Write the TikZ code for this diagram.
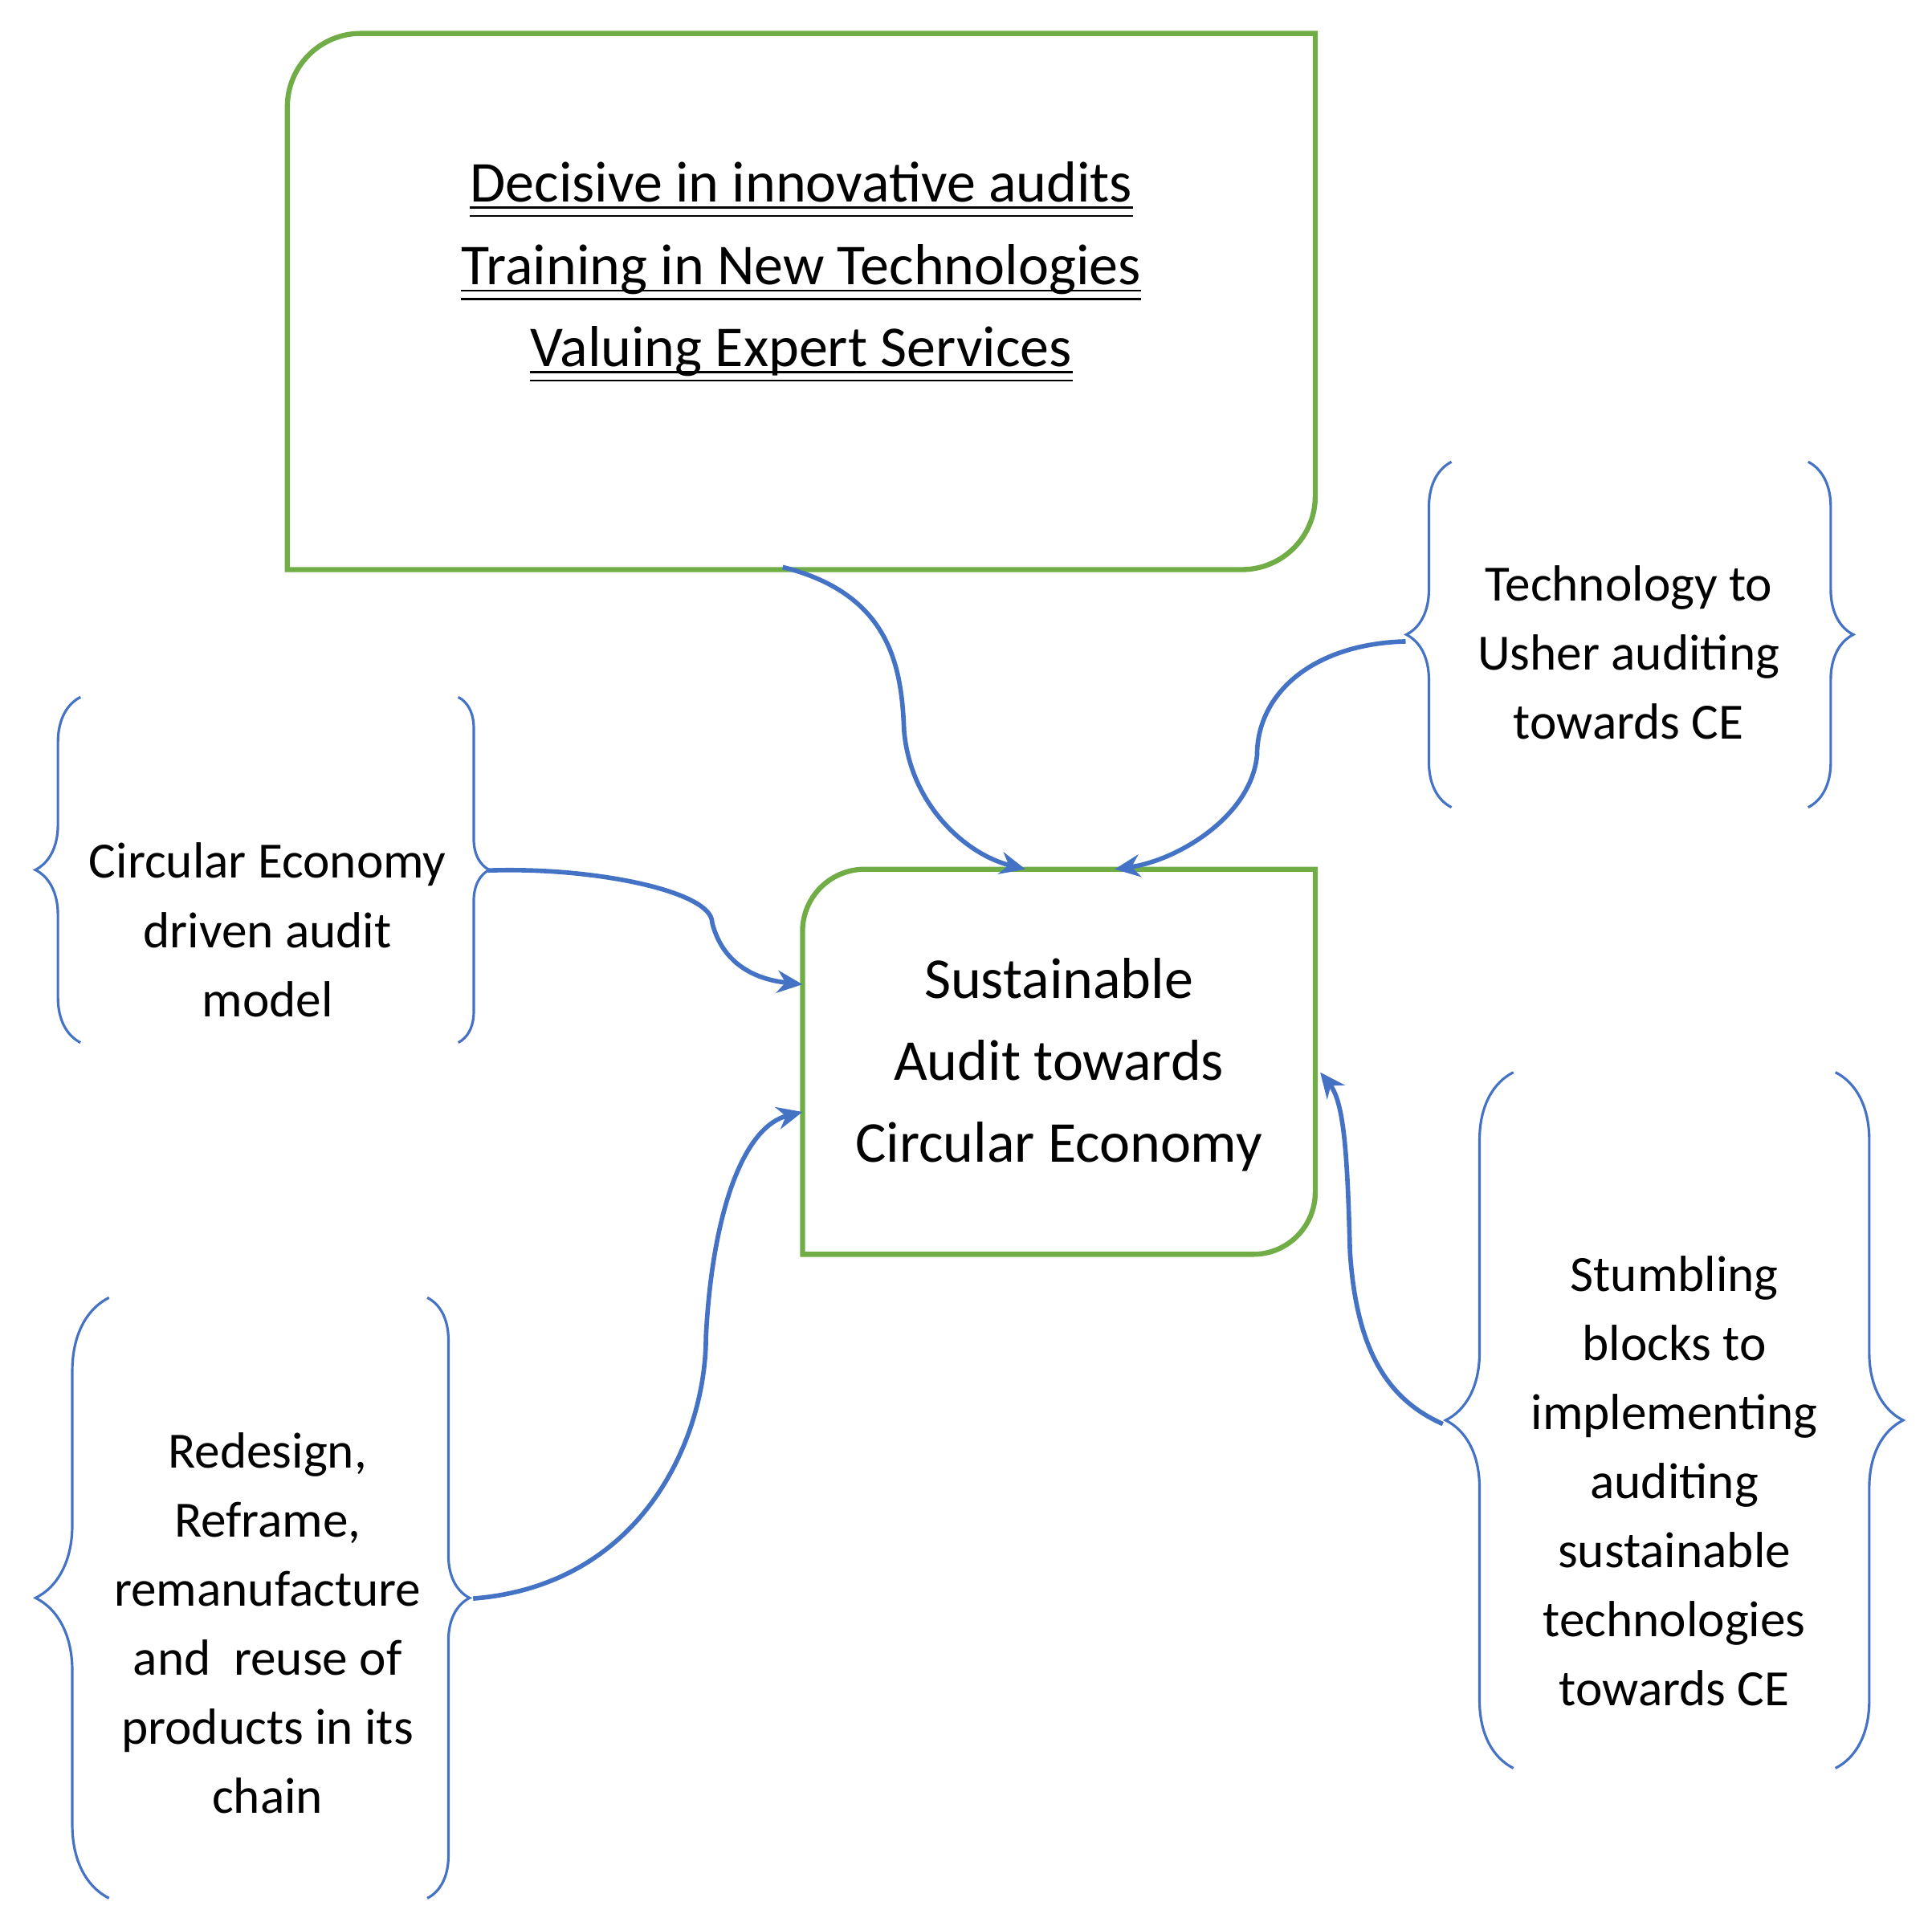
\documentclass[tikz,border=0pt]{standalone}
\usepackage{fontspec}
\setmainfont{Carlito}
\usetikzlibrary{decorations.pathreplacing,arrows.meta}
\definecolor{bgreen}{HTML}{70AD47}
\definecolor{bblue}{HTML}{4472C4}
\begin{document}
\begin{tikzpicture}[x=0.01542cm,y=-0.01542cm,
  box/.style={draw=bgreen,line width=1.8pt},
  brc/.style={draw=bblue,line width=0.9pt,decorate,decoration={brace,amplitude=#1}},
  brc/.default=16pt,
  arr/.style={draw=bblue,line width=1.6pt,-{Stealth[length=9pt,width=8pt]}},
  txt/.style={align=center,font=\fontsize{18}{24.5}\selectfont},
  btxt/.style={align=center,font=\fontsize{20.5}{29}\selectfont},
  ul/.style={inner sep=0pt,font=\fontsize{20.5}{29}\selectfont,text depth=0.28em},
  uline/.style={line width=0.7pt}]
\useasboundingbox (0,0) rectangle (1560,1555);
% top box
\draw[box] (232,460) [rounded corners=26pt]-- (232,27) [sharp corners]-- (1062,27) [rounded corners=26pt]-- (1062,460) [sharp corners]-- cycle;
\node[ul] (t1) at (647,150) {Decisive in innovative audits};
\node[ul] (t2) at (647,217) {Training in New Technologies};
\node[ul] (t3) at (647,283) {Valuing Expert Services};
\foreach \n in {t1,t2,t3}{
  \draw[uline] ([yshift=1pt]\n.south west) -- ([yshift=1pt]\n.south east);
  \draw[uline] ([yshift=-2pt]\n.south west) -- ([yshift=-2pt]\n.south east);
}
\coordinate (topS) at (632,458);
% center box
\draw[box] (648,1013) [rounded corners=22pt]-- (648,702) [sharp corners]-- (1062,702) [rounded corners=22pt]-- (1062,1013) [sharp corners]-- cycle;
\node[btxt] (ctr) at (855,860) {Sustainable\\Audit towards\\Circular Economy};
\coordinate (cT1) at (828,702);
\coordinate (cT2) at (900,702);
\coordinate (cL1) at (648,795);
\coordinate (cL2) at (648,898);
\coordinate (cR) at (1066,866);
% braces
\draw[brc] (65,842) -- (65,563);
\draw[brc=11pt] (370,563) -- (370,842);
\node[txt] (l1) at (216,751) {Circular Economy\\driven audit\\model};
\coordinate (l1t) at (394,703);
\draw[brc=26pt] (88,1533) -- (88,1048);
\draw[brc=15pt] (345,1048) -- (345,1533);
\node[txt] (l2) at (216,1311) {Redesign,\\Reframe,\\remanufacture\\and\ \ reuse of\\products in its\\chain};
\coordinate (l2t) at (382,1291);
\draw[brc] (1172,652) -- (1172,373);
\draw[brc] (1460,373) -- (1460,652);
\node[txt] (r1) at (1315,527) {Technology to\\Usher auditing\\towards CE};
\coordinate (r1t) at (1135,518);
\draw[brc=24pt] (1222,1428) -- (1222,866);
\draw[brc=24pt] (1482,866) -- (1482,1428);
\node[txt] (r2) at (1352,1196) {Stumbling\\blocks to\\implementing\\auditing\\sustainable\\technologies\\towards CE};
\coordinate (r2t) at (1165,1150);
% arrows
\draw[arr] (topS) .. controls (720,480) and (728,540) .. (730,590) .. controls (735,650) and (780,690) .. (cT1);
\draw[arr] (r1t) .. controls (1060,520) and (1015,560) .. (1015,610) .. controls (1010,660) and (950,695) .. (cT2);
\draw[arr] (l1t) .. controls (480,700) and (575,720) .. (575,745) .. controls (585,785) and (620,792) .. (cL1);
\draw[arr] (l2t) .. controls (520,1280) and (570,1160) .. (570,1080) .. controls (575,980) and (600,910) .. (cL2);
\draw[arr] (r2t) .. controls (1120,1130) and (1095,1090) .. (1090,1010) .. controls (1088,930) and (1085,890) .. (cR);
\end{tikzpicture}
\end{document}
